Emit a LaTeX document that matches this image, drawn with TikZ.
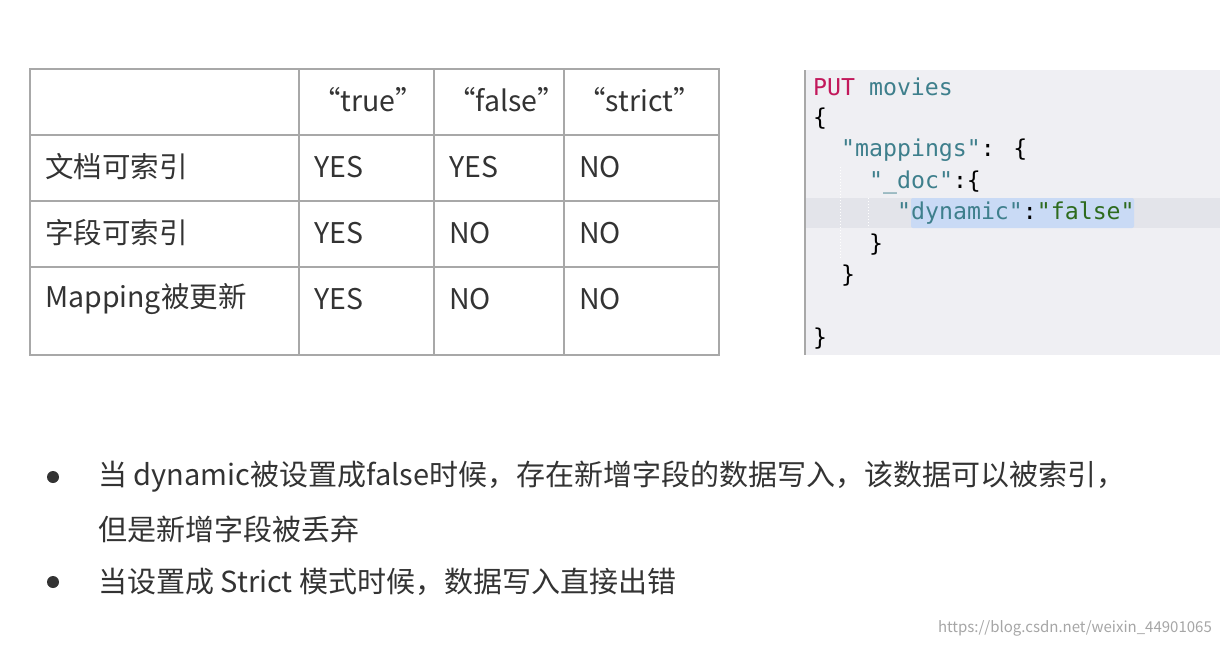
\documentclass[tikz,border=0pt]{standalone}
\usepackage{fontspec}
\setmainfont{Noto Sans CJK SC}
\newfontfamily\code{DejaVu Sans Mono}
\definecolor{txt}{HTML}{333333}
\definecolor{gridc}{HTML}{A8A8A8}
\definecolor{codebg}{HTML}{EFEFF3}
\definecolor{hl}{HTML}{E3E4EA}
\definecolor{sel}{HTML}{C9DAF5}
\definecolor{kw}{HTML}{C2185B}
\definecolor{key}{HTML}{3E7F8C}
\definecolor{val}{HTML}{2E6B1E}
\begin{document}
\begin{tikzpicture}[x=1pt,y=-1pt,
  cell/.style={anchor=west,inner sep=0pt,text=txt,font=\fontsize{28.5}{32}\selectfont},
  cl/.style={anchor=west,inner sep=0pt,font=\code\fontsize{23.2}{28}\selectfont},
  bt/.style={anchor=west,inner sep=0pt,text=txt,font=\fontsize{29}{32}\selectfont}]
\useasboundingbox (0,0) rectangle (1220,646);
\fill[white] (0,0) rectangle (1220,646);
% table
\draw[gridc,line width=1.2pt] (30,69) rectangle (719,355);
\foreach \x in {299,434,564} \draw[gridc,line width=1.2pt] (\x,69) -- (\x,355);
\foreach \y in {135,201,267} \draw[gridc,line width=1.2pt] (30,\y) -- (719,\y);
\node[cell] (h1) at (312,100) {“true”};
\node[cell] (h2) at (447,100) {“false”};
\node[cell] (h3) at (577,100) {“strict”};
\node[cell] (r1) at (45,167) {文档可索引};
\node[cell] (r2) at (45,233) {字段可索引};
\node[cell] (r3) at (45,299) {Mapping被更新};
\node[cell] (a11) at (314,167) {YES};
\node[cell] (a12) at (449,167) {YES};
\node[cell] (a13) at (579,167) {NO};
\node[cell] (a21) at (314,233) {YES};
\node[cell] (a22) at (449,233) {NO};
\node[cell] (a23) at (579,233) {NO};
\node[cell] (a31) at (314,299) {YES};
\node[cell] (a32) at (449,299) {NO};
\node[cell] (a33) at (579,299) {NO};
% code
\fill[codebg] (805,70) rectangle (1220,355);
\fill[hl] (805,198) rectangle (1220,228);
\draw[gridc,line width=1.5pt] (805,70) -- (805,355);
\draw[white,line width=1pt,dotted] (840,167) -- (840,258);
\draw[white,line width=1pt,dotted] (868,198) -- (868,228);
\fill[sel,rounded corners=2pt] (911,198) rectangle (1134,228);
\node[cl] (c1) at (813,87) {\textcolor{kw}{PUT} \textcolor{key}{movies}};
\node[cl] (c2) at (813,119) {\{};
\node[cl] (c3) at (841,150) {\textcolor{key}{"mappings"}: \{};
\node[cl] (c4) at (869,182) {\textcolor{key}{"\_doc"}:\{};
\node[cl] (c5) at (897,213) {\textcolor{key}{"dynamic"}:\textcolor{val}{"false"}};
\node[cl] (c6) at (869,245) {\}};
\node[cl] (c7) at (841,276) {\}};
\node[cl] (c8) at (813,339) {\}};
% bullets
\fill[txt] (53,477) circle (6);
\fill[txt] (53,582) circle (6);
\node[bt] (b1) at (98,477) {当 dynamic被设置成false时候，存在新增字段的数据写入，该数据可以被索引，};
\node[bt] (b2) at (98,529) {但是新增字段被丢弃};
\node[bt] (b3) at (98,582) {当设置成 Strict 模式时候，数据写入直接出错};
\node[anchor=east,inner sep=0pt,text=gray!70,font=\fontsize{15}{18}\selectfont] (wm) at (1212,628) {https://blog.csdn.net/weixin\_44901065};
\end{tikzpicture}
\end{document}
